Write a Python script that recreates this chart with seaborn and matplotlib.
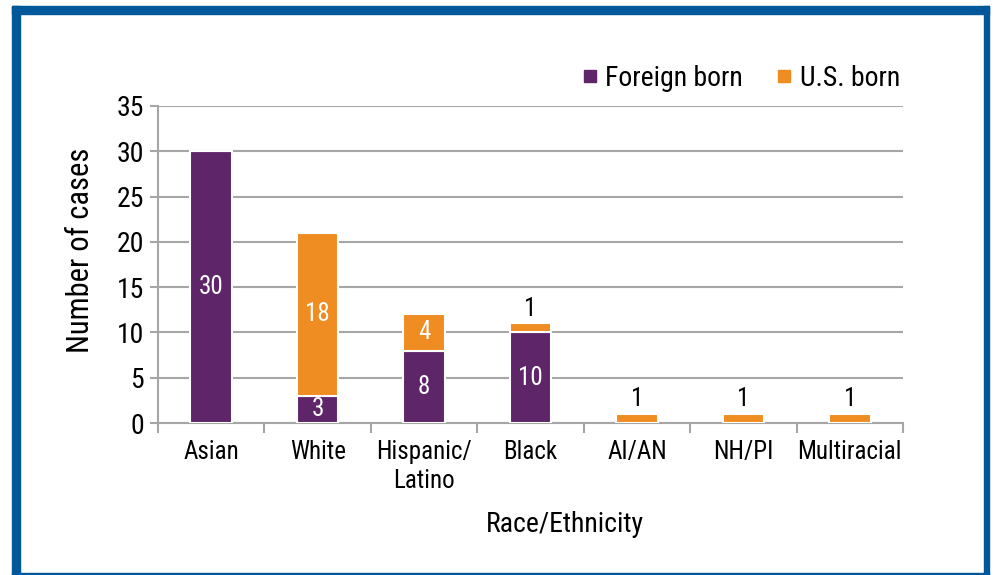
import matplotlib
matplotlib.use("Agg")
import matplotlib.pyplot as plt
from matplotlib.patches import Rectangle
from matplotlib.lines import Line2D
import pandas as pd
import seaborn as sns

categories = ["Asian", "White", "Hispanic/\nLatino", "Black", "AI/AN", "NH/PI", "Multiracial"]
foreign_born = [30, 3, 8, 10, 0, 0, 0]
us_born = [0, 18, 4, 1, 1, 1, 1]
yticks = [0, 5, 10, 15, 20, 25, 30, 35]

purple = "#5E2568"
orange = "#EF8C22"
frame_blue = "#00579A"
grid_gray = "#A6A6A6"

sns.set_theme(style="white")
plt.rcParams["font.family"] = ["Roboto Condensed", "DejaVu Sans"]
plt.rcParams["text.color"] = "black"
plt.rcParams["axes.labelcolor"] = "black"
plt.rcParams["xtick.color"] = "black"
plt.rcParams["ytick.color"] = "black"

df = pd.DataFrame({"group": categories, "foreign": foreign_born, "us": us_born})

fig = plt.figure(figsize=(9.97, 5.75), dpi=100)
ax = fig.add_axes([0.1585, 0.2643, 0.7472, 0.5514])

sns.barplot(data=df, x="group", y="foreign", color=purple, width=0.39, saturation=1,
            edgecolor="white", linewidth=1.5, ax=ax, zorder=3)
sns.barplot(data=df, x="group", y="us", bottom=df["foreign"], color=orange, width=0.39,
            saturation=1, edgecolor="white", linewidth=1.5, ax=ax, zorder=3)

# value labels
for i, (f, u) in enumerate(zip(foreign_born, us_born)):
    if f > 0:
        ax.text(i, f / 2, str(f), ha="center", va="center", color="white", fontsize=18, zorder=4)
    if u > 0:
        if u >= 3:
            ax.text(i, f + u / 2, str(u), ha="center", va="center", color="white", fontsize=18, zorder=4)
        else:
            ax.annotate(str(u), (i, f + u), xytext=(0, 2), textcoords="offset points",
                        ha="center", va="bottom", color="black", fontsize=18)

ax.set_ylim(0, 35)
ax.set_xlim(-0.5, 6.5)
ax.set_yticks(yticks)
ax.yaxis.grid(True, color=grid_gray, linewidth=1.5, zorder=0)
ax.set_axisbelow(True)
for s in ["top", "right"]:
    ax.spines[s].set_visible(False)
for s in ["left", "bottom"]:
    ax.spines[s].set_color(grid_gray)
    ax.spines[s].set_linewidth(1.5)

ax.tick_params(axis="y", left=True, length=6, width=1.5, color=grid_gray, labelcolor="black",
               labelsize=20, pad=4)
ax.set_xticks(range(len(categories)))
ax.set_xticklabels(categories, fontsize=18, linespacing=1.3)
ax.tick_params(axis="x", bottom=False, labelcolor="black", labelsize=18, pad=6)
# tick marks between categories
ax.set_xticks([x - 0.5 for x in range(len(categories) + 1)], minor=True)
ax.tick_params(axis="x", which="minor", bottom=True, length=7, width=1.5, color=grid_gray)

ax.set_xlabel("Race/Ethnicity", fontsize=20)
ax.xaxis.set_label_coords(0.546, -0.277)
ax.set_ylabel("Number of cases", fontsize=22)
ax.yaxis.set_label_coords(-0.085, 0.546)

handles = [Line2D([], [], marker="s", linestyle="", color=purple, markersize=8),
           Line2D([], [], marker="s", linestyle="", color=orange, markersize=8)]
ax.legend(handles, ["Foreign born", "U.S. born"], loc="center right", bbox_to_anchor=(0.996, 1.087),
          ncol=2, frameon=False, fontsize=20, handletextpad=0.05, columnspacing=1.0,
          borderaxespad=0, borderpad=0, handlelength=1.0)

# blue frame around the figure
fw, fh = 997, 575
for x0, y0, w, h in [(12, 0, 8, 569), (12, 561, 977, 8), (984, 0, 5, 569), (12, 0, 977, 2)]:
    fig.patches.append(Rectangle((x0 / fw, y0 / fh), w / fw, h / fh, transform=fig.transFigure,
                                 color=frame_blue, zorder=10))

fig.savefig("out.png", dpi=100)
